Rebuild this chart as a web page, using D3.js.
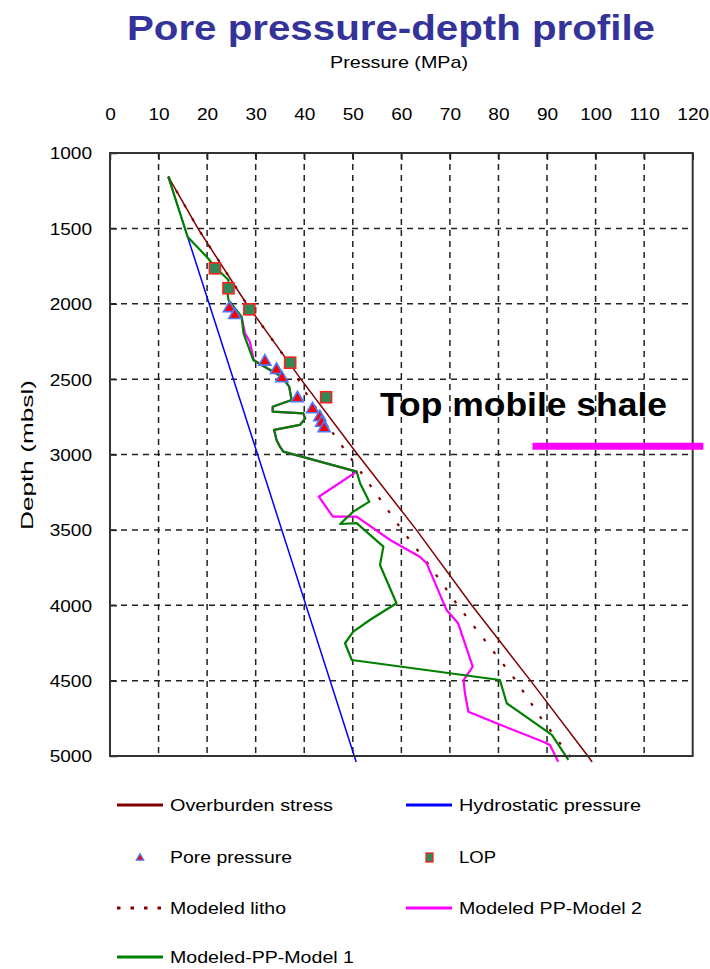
<!DOCTYPE html>
<html><head><meta charset="utf-8">
<script src="https://cdn.jsdelivr.net/npm/d3@7"></script>
<style>body{margin:0;background:#fff}svg{display:block}text{font-family:"Liberation Sans",Arial,sans-serif}</style>
</head><body>
<svg id="chart" width="710" height="969"></svg>
<script>
// ---------- data (depth m, pressure MPa) ----------
const pressureTicks = [0,10,20,30,40,50,60,70,80,90,100,110,120];
const depthTicks = [1000,1500,2000,2500,3000,3500,4000,4500,5000];

const overburden = [[1157,12.0],[1500,18.1],[2000,28.1],[2500,39.3],[3000,51.0],[3500,63.1],[4000,74.5],[4500,86.6],[5000,98.4],[5040,99.3]];
const hydrostatic = [[1157,12.0],[3000,30.4],[5040,50.7]];
const modeledLitho = [[1157,12.0],[1500,18.1],[2000,28.1],[2400,37.0],[2600,40.5],[2900,46.8],[3100,51.3],[3500,60.1],[3750,66.1],[4000,71.6],[4250,77.6],[4500,83.6],[4750,88.8],[5040,95.6]];
const ppModel1 = [[1157,12.0],[1557,16.0],[1688,19.9],[1754,21.6],[1842,24.4],[1929,24.2],[1975,24.4],[2086,27.1],[2196,27.5],[2373,29.5],[2406,31.2],[2484,35.4],[2550,36.9],[2638,37.4],[2683,33.5],[2716,33.5],[2727,39.8],[2760,40.2],[2804,39.1],[2837,33.8],[2904,34.3],[2948,35.0],[2981,35.7],[3114,50.8],[3191,51.5],[3313,53.4],[3379,50.1],[3461,47.4],[3455,50.8],[3611,56.3],[3733,55.6],[3987,59.0],[4098,53.5],[4175,50.1],[4252,48.4],[4363,49.8],[4496,80.3],[4650,81.7],[4860,91.0],[5026,94.4]];
const ppModel2 = [[2086,27.1],[2196,27.8],[2252,28.8],[2373,29.6],[2406,31.2],[2484,35.4],[2550,36.9],[2638,37.4],[2683,33.5],[2716,33.5],[2727,39.8],[2760,40.2],[2804,39.1],[2837,33.8],[2904,34.3],[2948,35.0],[2981,35.7],[3114,50.8],[3280,43.0],[3412,45.9],[3412,50.8],[3567,57.7],[3678,63.8],[3721,65.2],[4031,69.3],[4120,71.7],[4407,74.7],[4496,72.8],[4584,73.1],[4706,73.8],[4783,79.6],[4905,89.2],[4927,90.6],[5038,92.3]];
const porePressure = [[2030,24.6],[2075,25.7],[2384,31.9],[2439,34.3],[2494,35.4],[2627,38.6],[2700,41.7],[2753,43.2],[2789,43.6],[2826,44.1]];
const lop = [[1765,21.6],[1897,24.4],[2037,28.7],[2391,37.1],[2620,44.5]];
const shaleDepth = 2945, shaleFrom = 87, shaleTo = 122.2;

const titleText = "Pore pressure-depth profile";
const xTitle = "Pressure (MPa)";
const yTitle = "Depth (mbsl)";
const shaleLabel = "Top mobile shale";
const legendItems = [
  {name:"Overburden stress", type:"line", color:"#800000"},
  {name:"Hydrostatic pressure", type:"line", color:"#0000FF"},
  {name:"Pore pressure", type:"tri"},
  {name:"LOP", type:"sq"},
  {name:"Modeled litho", type:"dot", color:"#800000"},
  {name:"Modeled PP-Model 2", type:"line", color:"#FF00FF"},
  {name:"Modeled-PP-Model 1", type:"line", color:"#008000"}
];

// ---------- layout ----------
const svg = d3.select("#chart");
const L = 110, R = 692.7, T = 153, B = 756;
const x = d3.scaleLinear().domain([0,120]).range([L,R]);
const y = d3.scaleLinear().domain([1000,5000]).range([T,B]);

function stretch(sel, k){ sel.each(function(){ const w=this.getComputedTextLength(); d3.select(this).attr("textLength", w*k).attr("lengthAdjust","spacingAndGlyphs"); }); }
function fit(sel, w){ sel.attr("textLength", w).attr("lengthAdjust","spacingAndGlyphs"); }

// title
svg.append("text").attr("x",391).attr("y",40).attr("text-anchor","middle")
  .attr("font-size",35).attr("font-weight","bold").attr("fill","#333399").text(titleText).call(fit,528);
svg.append("text").attr("x",399).attr("y",68).attr("text-anchor","middle")
  .attr("font-size",17).attr("fill","#000").text(xTitle).call(fit,138);

// grid
const g = svg.append("g");
g.selectAll(".vg").data(pressureTicks.filter(d=>d>0&&d<120)).join("line")
  .attr("x1",d=>x(d)).attr("x2",d=>x(d)).attr("y1",T).attr("y2",B)
  .attr("stroke","#222").attr("stroke-width",1.5).attr("stroke-dasharray","6,5");
g.selectAll(".hg").data(depthTicks.filter(d=>d>1000&&d<5000)).join("line")
  .attr("y1",d=>y(d)).attr("y2",d=>y(d)).attr("x1",L).attr("x2",R)
  .attr("stroke","#222").attr("stroke-width",1.5).attr("stroke-dasharray","6,5");

// axes (top, left) with inward ticks
const xAxis = svg.append("g").attr("transform",`translate(0,${T})`)
  .call(d3.axisBottom(x).tickValues(pressureTicks).tickSize(7).tickFormat(d3.format("d")));
xAxis.select(".domain").remove();
xAxis.selectAll(".tick line").attr("stroke","#222").attr("stroke-width",1.5);
xAxis.selectAll(".tick text").attr("y",-33).attr("dy",0).attr("font-size",17).attr("fill","#000")
  .attr("font-family","Liberation Sans, Arial, sans-serif").call(stretch,1.12);

const yAxis = svg.append("g").attr("transform",`translate(${L},0)`)
  .call(d3.axisRight(y).tickValues(depthTicks).tickSize(7).tickFormat(d3.format("d")));
yAxis.select(".domain").remove();
yAxis.selectAll(".tick line").attr("stroke","#222").attr("stroke-width",1.5);
yAxis.selectAll(".tick text").attr("x",-18).attr("text-anchor","end").attr("dy","0.35em")
  .attr("font-size",17).attr("fill","#000").attr("font-family","Liberation Sans, Arial, sans-serif").call(stretch,1.12);

svg.append("text").attr("transform","translate(33,455) rotate(-90)").attr("text-anchor","middle")
  .attr("font-size",17).attr("fill","#000").text(yTitle).call(fit,150);

// series
const line = d3.line().x(d=>x(d[1])).y(d=>y(d[0]));
const plot = svg.append("g");
plot.append("path").datum(hydrostatic).attr("d",line).attr("fill","none").attr("stroke","#0000FF").attr("stroke-width",1.5);
plot.append("path").datum(overburden).attr("d",line).attr("fill","none").attr("stroke","#800000").attr("stroke-width",1.5);
plot.append("path").datum(modeledLitho).attr("d",line).attr("fill","none").attr("stroke","#800000").attr("stroke-width",2.2).attr("stroke-dasharray","3,13");
plot.append("path").datum(ppModel2).attr("d",line).attr("fill","none").attr("stroke","#FF00FF").attr("stroke-width",2.2).attr("stroke-linejoin","round");
plot.append("path").datum(ppModel1).attr("d",line).attr("fill","none").attr("stroke","#008000").attr("stroke-width",2.2).attr("stroke-linejoin","round");

const tri = d3.symbol().type(d3.symbolTriangle).size(64);
plot.selectAll(".pp").data(porePressure).join("path")
  .attr("transform",d=>`translate(${x(d[1])},${y(d[0])})`).attr("d",tri)
  .attr("fill","#FF0000").attr("stroke","#4D79FF").attr("stroke-width",1.6);
plot.selectAll(".lop").data(lop).join("rect")
  .attr("x",d=>x(d[1])-5.5).attr("y",d=>y(d[0])-5.5).attr("width",11).attr("height",11)
  .attr("fill","#2E8B57").attr("stroke","#FF2020").attr("stroke-width",1.6);

// border
svg.append("rect").attr("x",L).attr("y",T).attr("width",R-L).attr("height",B-T)
  .attr("fill","none").attr("stroke","#333").attr("stroke-width",2);

// annotation
svg.append("text").attr("x",380).attr("y",416).attr("font-size",34).attr("font-weight","bold")
  .attr("fill","#000").text(shaleLabel).call(fit,287);
svg.append("line").attr("x1",x(shaleFrom)).attr("x2",x(shaleTo)).attr("y1",y(shaleDepth)).attr("y2",y(shaleDepth))
  .attr("stroke","#FF00FF").attr("stroke-width",7);

// legend
const rowsY = [805,857,908,957];
const colX = [117,406];
const textW = {"Overburden stress":163,"Hydrostatic pressure":182,"Pore pressure":122,"LOP":37,"Modeled litho":116,"Modeled PP-Model 2":183,"Modeled-PP-Model 1":184};
const leg = svg.append("g");
legendItems.forEach((it,i)=>{
  const cx = colX[i%2], cy = rowsY[Math.floor(i/2)];
  const gi = leg.append("g");
  if(it.type==="line"||it.type==="dot"){
    gi.append("line").attr("x1",cx).attr("x2",cx+46).attr("y1",cy).attr("y2",cy)
      .attr("stroke",it.color).attr("stroke-width",3)
      .attr("stroke-dasharray", it.type==="dot" ? "3.5,10" : null);
  } else if(it.type==="tri"){
    gi.append("path").attr("transform",`translate(${cx+23},${cy+1})`).attr("d",d3.symbol().type(d3.symbolTriangle).size(24))
      .attr("fill","#FF0000").attr("stroke","#4D79FF").attr("stroke-width",1.3);
  } else {
    gi.append("rect").attr("x",cx+20).attr("y",cy-4).attr("width",7).attr("height",9)
      .attr("fill","#2E8B57").attr("stroke","#FF2020").attr("stroke-width",1.3);
  }
  gi.append("text").attr("x",cx+53).attr("y",cy+6).attr("font-size",17).attr("fill","#000")
    .text(it.name).call(fit,textW[it.name]);
});
</script>
</body></html>
